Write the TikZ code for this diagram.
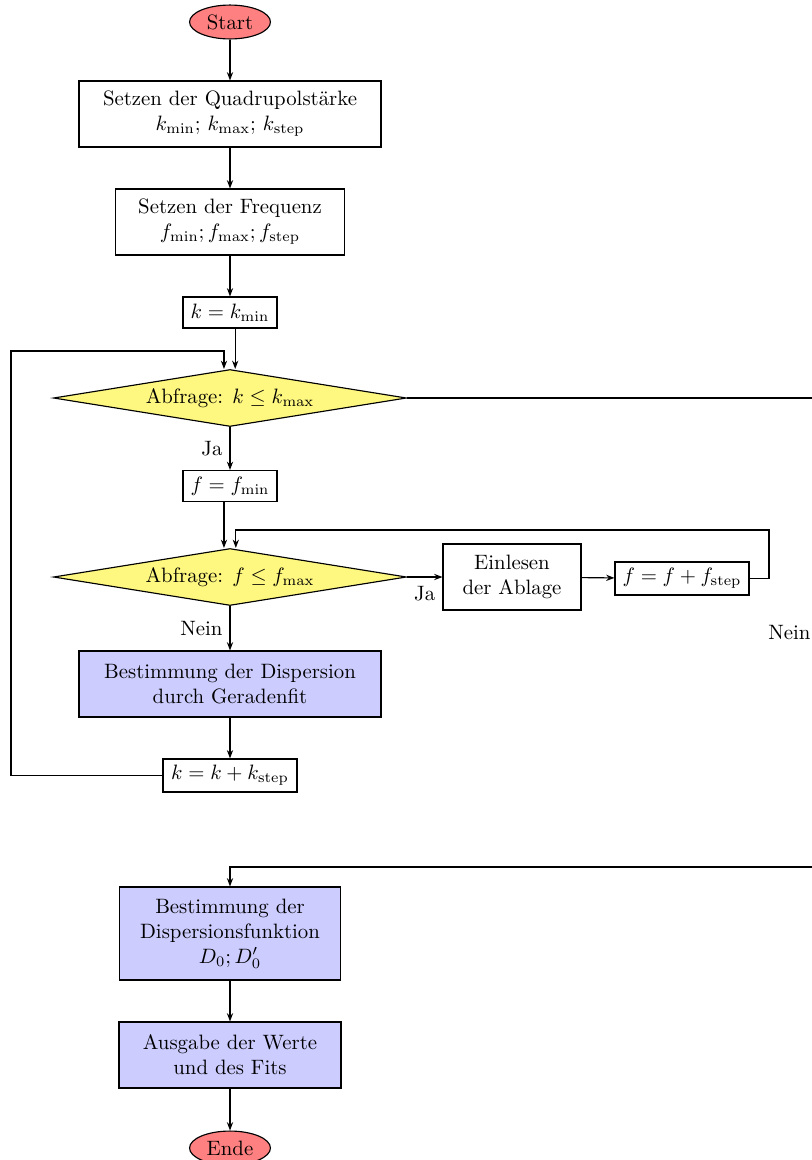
\documentclass[tikz,border=0pt]{standalone}
\usetikzlibrary{shapes.geometric,arrows.meta}
\begin{document}
\begin{tikzpicture}[x=0.4808pt,y=-0.4808pt,
  line width=0.55pt,
  arr/.style={-{Stealth[length=4pt,width=3pt]}},
  term/.style={draw, ellipse, fill=red!50, minimum width=38.9pt, minimum height=16.3pt, inner sep=0pt},
  box/.style={draw, rectangle, align=center, inner sep=2pt},
  blue box/.style={box, fill=blue!20},
  query/.style={draw, diamond, fill=yellow!50, aspect=6.2, inner sep=0pt, minimum width=169.7pt, minimum height=27.4pt}]
\useasboundingbox (0,0) rectangle (811,1160);

\node[term] (start) at (230,22) {Start};
\node[box, minimum width=145.2pt, minimum height=31.7pt] (b1) at (230,114)
  {Setzen der Quadrupolstärke\\$k_{\min}$; $k_{\max}$; $k_{\mathrm{step}}$};
\node[box, minimum width=110.1pt, minimum height=31.7pt] (b2) at (230,222)
  {Setzen der Frequenz\\$f_{\min}; f_{\max}; f_{\mathrm{step}}$};
\node[box, minimum width=45.2pt, minimum height=14.9pt] (kmin) at (230,312.5) {$k = k_{\min}$};
\node[query] (d1) at (230,398) {Abfrage: $k \le k_{\max}$};
\node[box, minimum width=45.2pt, minimum height=14.9pt] (fmin) at (230,486) {$f = f_{\min}$};
\node[query] (d2) at (230,577) {Abfrage: $f \le f_{\max}$};
\node[box, minimum width=66.3pt, minimum height=31.7pt] (b5) at (512,577) {Einlesen\\der Ablage};
\node[box, minimum width=64.4pt, minimum height=15.9pt] (finc) at (682,578.5) {$f = f + f_{\mathrm{step}}$};
\node[blue box, minimum width=145.2pt, minimum height=31.7pt] (b7) at (230,684)
  {Bestimmung der Dispersion\\durch Geradenfit};
\node[box, minimum width=64.4pt, minimum height=15.9pt] (kinc) at (230,775.5) {$k = k + k_{\mathrm{step}}$};
\node[blue box, minimum width=106.3pt, minimum height=44.7pt] (b9) at (230,933.5)
  {Bestimmung der\\Dispersionsfunktion\\$D_0; D_0'$};
\node[blue box, minimum width=106.7pt, minimum height=31.7pt] (b10) at (230,1055)
  {Ausgabe der Werte\\und des Fits};
\node[term] (end) at (230,1148) {Ende};

\coordinate (kl) at (11,351);
\coordinate (fr) at (769,530);
\coordinate (kr) at (818,398);
\coordinate (kb) at (818,867);

\draw[arr] (start) -- (b1);
\draw[arr] (b1) -- (b2);
\draw[arr] (b2) -- (kmin);
\draw[arr] ([xshift=2.5pt]kmin.south) -- ([xshift=2.5pt]d1.north);
\draw[arr] (d1) -- node[left] {Ja} (fmin);
\draw[arr] ([xshift=-2.9pt]fmin.south) -- ([xshift=-2.9pt]d2.north);
\draw[arr] (d2) -- node[below, yshift=-1pt] {Ja} (b5);
\draw[arr] (b5) -- (finc);
\draw[arr] (finc.east) -| (fr) -| ([xshift=2.8pt]d2.north);
\draw[arr] (d2) -- node[left] {Nein} (b7);
\draw[arr] (b7) -- (kinc);
\draw[arr] (kinc.west) -| (kl) -| ([xshift=-2.9pt]d1.north);
\draw (d1.east) -- (kr) -- node[left] {Nein} (kb);
\draw[arr] (kb) -| (b9.north);
\draw[arr] (b9) -- (b10);
\draw[arr] (b10) -- (end);
\end{tikzpicture}
\end{document}
